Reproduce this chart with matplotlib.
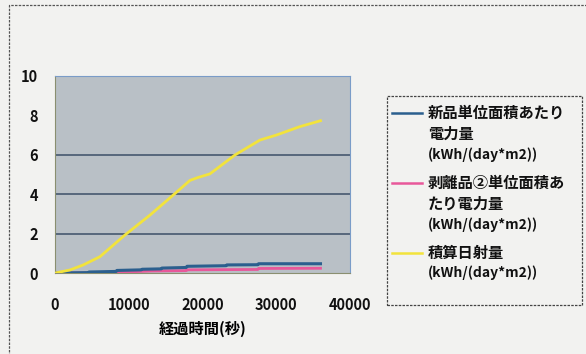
import matplotlib
matplotlib.use("Agg")
import matplotlib.pyplot as plt
from matplotlib.lines import Line2D
from matplotlib.patches import Rectangle

plt.rcParams['font.family'] = ['Noto Sans CJK JP', 'DejaVu Sans']

# Data
blue_x = [0, 4500, 4600, 8300, 8400, 11700, 11800, 14400, 14500, 17800, 17900, 23200, 23300, 27500, 27600, 36000]
blue_y = [0, 0.02, 0.05, 0.08, 0.13, 0.16, 0.19, 0.21, 0.25, 0.28, 0.34, 0.37, 0.41, 0.42, 0.47, 0.47]
pink_x = [0, 6700, 6800, 11000, 13000, 17800, 17900, 23000, 27500, 27600, 36000]
pink_y = [0, 0, 0.04, 0.07, 0.10, 0.12, 0.16, 0.17, 0.18, 0.23, 0.24]
yel_x = [0, 2000, 3840, 6100, 9490, 12880, 16040, 18300, 19400, 21000, 24400, 27800, 30000, 33200, 36000]
yel_y = [0, 0.15, 0.41, 0.83, 1.93, 2.94, 3.96, 4.70, 4.85, 5.03, 5.99, 6.75, 7.00, 7.43, 7.73]

xticks = [0, 10000, 20000, 30000, 40000]
yticks = [0, 2, 4, 6, 8, 10]
grid_vals = [2, 4, 6]

labels = ["新品単位面積あたり\n電力量\n(kWh/(day*m2))",
          "剥離品②単位面積あ\nたり電力量\n(kWh/(day*m2))",
          "積算日射量\n(kWh/(day*m2))"]
colors = ["#2b5f8e", "#e8589a", "#f2e33c"]
xlabel = "経過時間(秒)"

W, H = 586, 354
fig = plt.figure(figsize=(W / 100, H / 100), dpi=100)
fig.patch.set_facecolor("#f2f2f0")

# outer border
fig.add_artist(Rectangle((9 / W, -0.05), 1.0, (H - 5) / H + 0.05, transform=fig.transFigure,
                         fill=False, edgecolor="#555555", lw=0.9, linestyle=(0, (2, 1))))

ax = fig.add_axes([55 / W, (H - 273) / H, (350 - 55) / W, (273 - 76) / H])
ax.set_facecolor("#b9c0c6")
for v in grid_vals:
    ax.axhline(v, color="#4f6076", lw=1.3, zorder=1)

ax.plot(blue_x, blue_y, color=colors[0], lw=2.2, zorder=3)
ax.plot(pink_x, pink_y, color=colors[1], lw=2.0, zorder=2)
ax.plot(yel_x, yel_y, color=colors[2], lw=2.0, zorder=4)

ax.set_xlim(0, 40000)
ax.set_ylim(0, 10)
ax.set_xticks(xticks)
ax.set_yticks(yticks)
ax.tick_params(axis='both', length=0, labelsize=10.5, colors="#111111")
ax.tick_params(axis='x', pad=17)
ax.tick_params(axis='y', pad=12)
for lab in ax.get_xticklabels() + ax.get_yticklabels():
    lab.set_fontweight("bold")
ax.spines['top'].set_color("#7a9cc8")
ax.spines['right'].set_color("#7a9cc8")
ax.spines['left'].set_color("#8a8f70")
ax.spines['bottom'].set_color("#8a8f70")
ax.set_xlabel(xlabel, fontsize=11, fontweight="bold", labelpad=6)

# legend (drawn manually)
fig.add_artist(Rectangle((387 / W, (H - 305) / H), (582 - 387) / W, (305 - 96) / H,
                         transform=fig.transFigure, facecolor="none", edgecolor="#444444",
                         lw=0.9, linestyle=(0, (2, 1))))
line_ys = [[113, 134, 155], [183, 204, 225], [253, 273]]
for lab, c, ys in zip(labels, colors, line_ys):
    fig.add_artist(Line2D([392 / W, 422 / W], [(H - ys[0]) / H] * 2, color=c, lw=1.8,
                          transform=fig.transFigure))
    for txt, y in zip(lab.split("\n"), ys):
        fs = 10 if txt.startswith("(") else 11
        fig.text(428 / W, (H - y) / H, txt, fontsize=fs, fontweight="bold",
                 va="center", ha="left", color="#111111")

fig.savefig("out.png", dpi=100, facecolor=fig.get_facecolor())
